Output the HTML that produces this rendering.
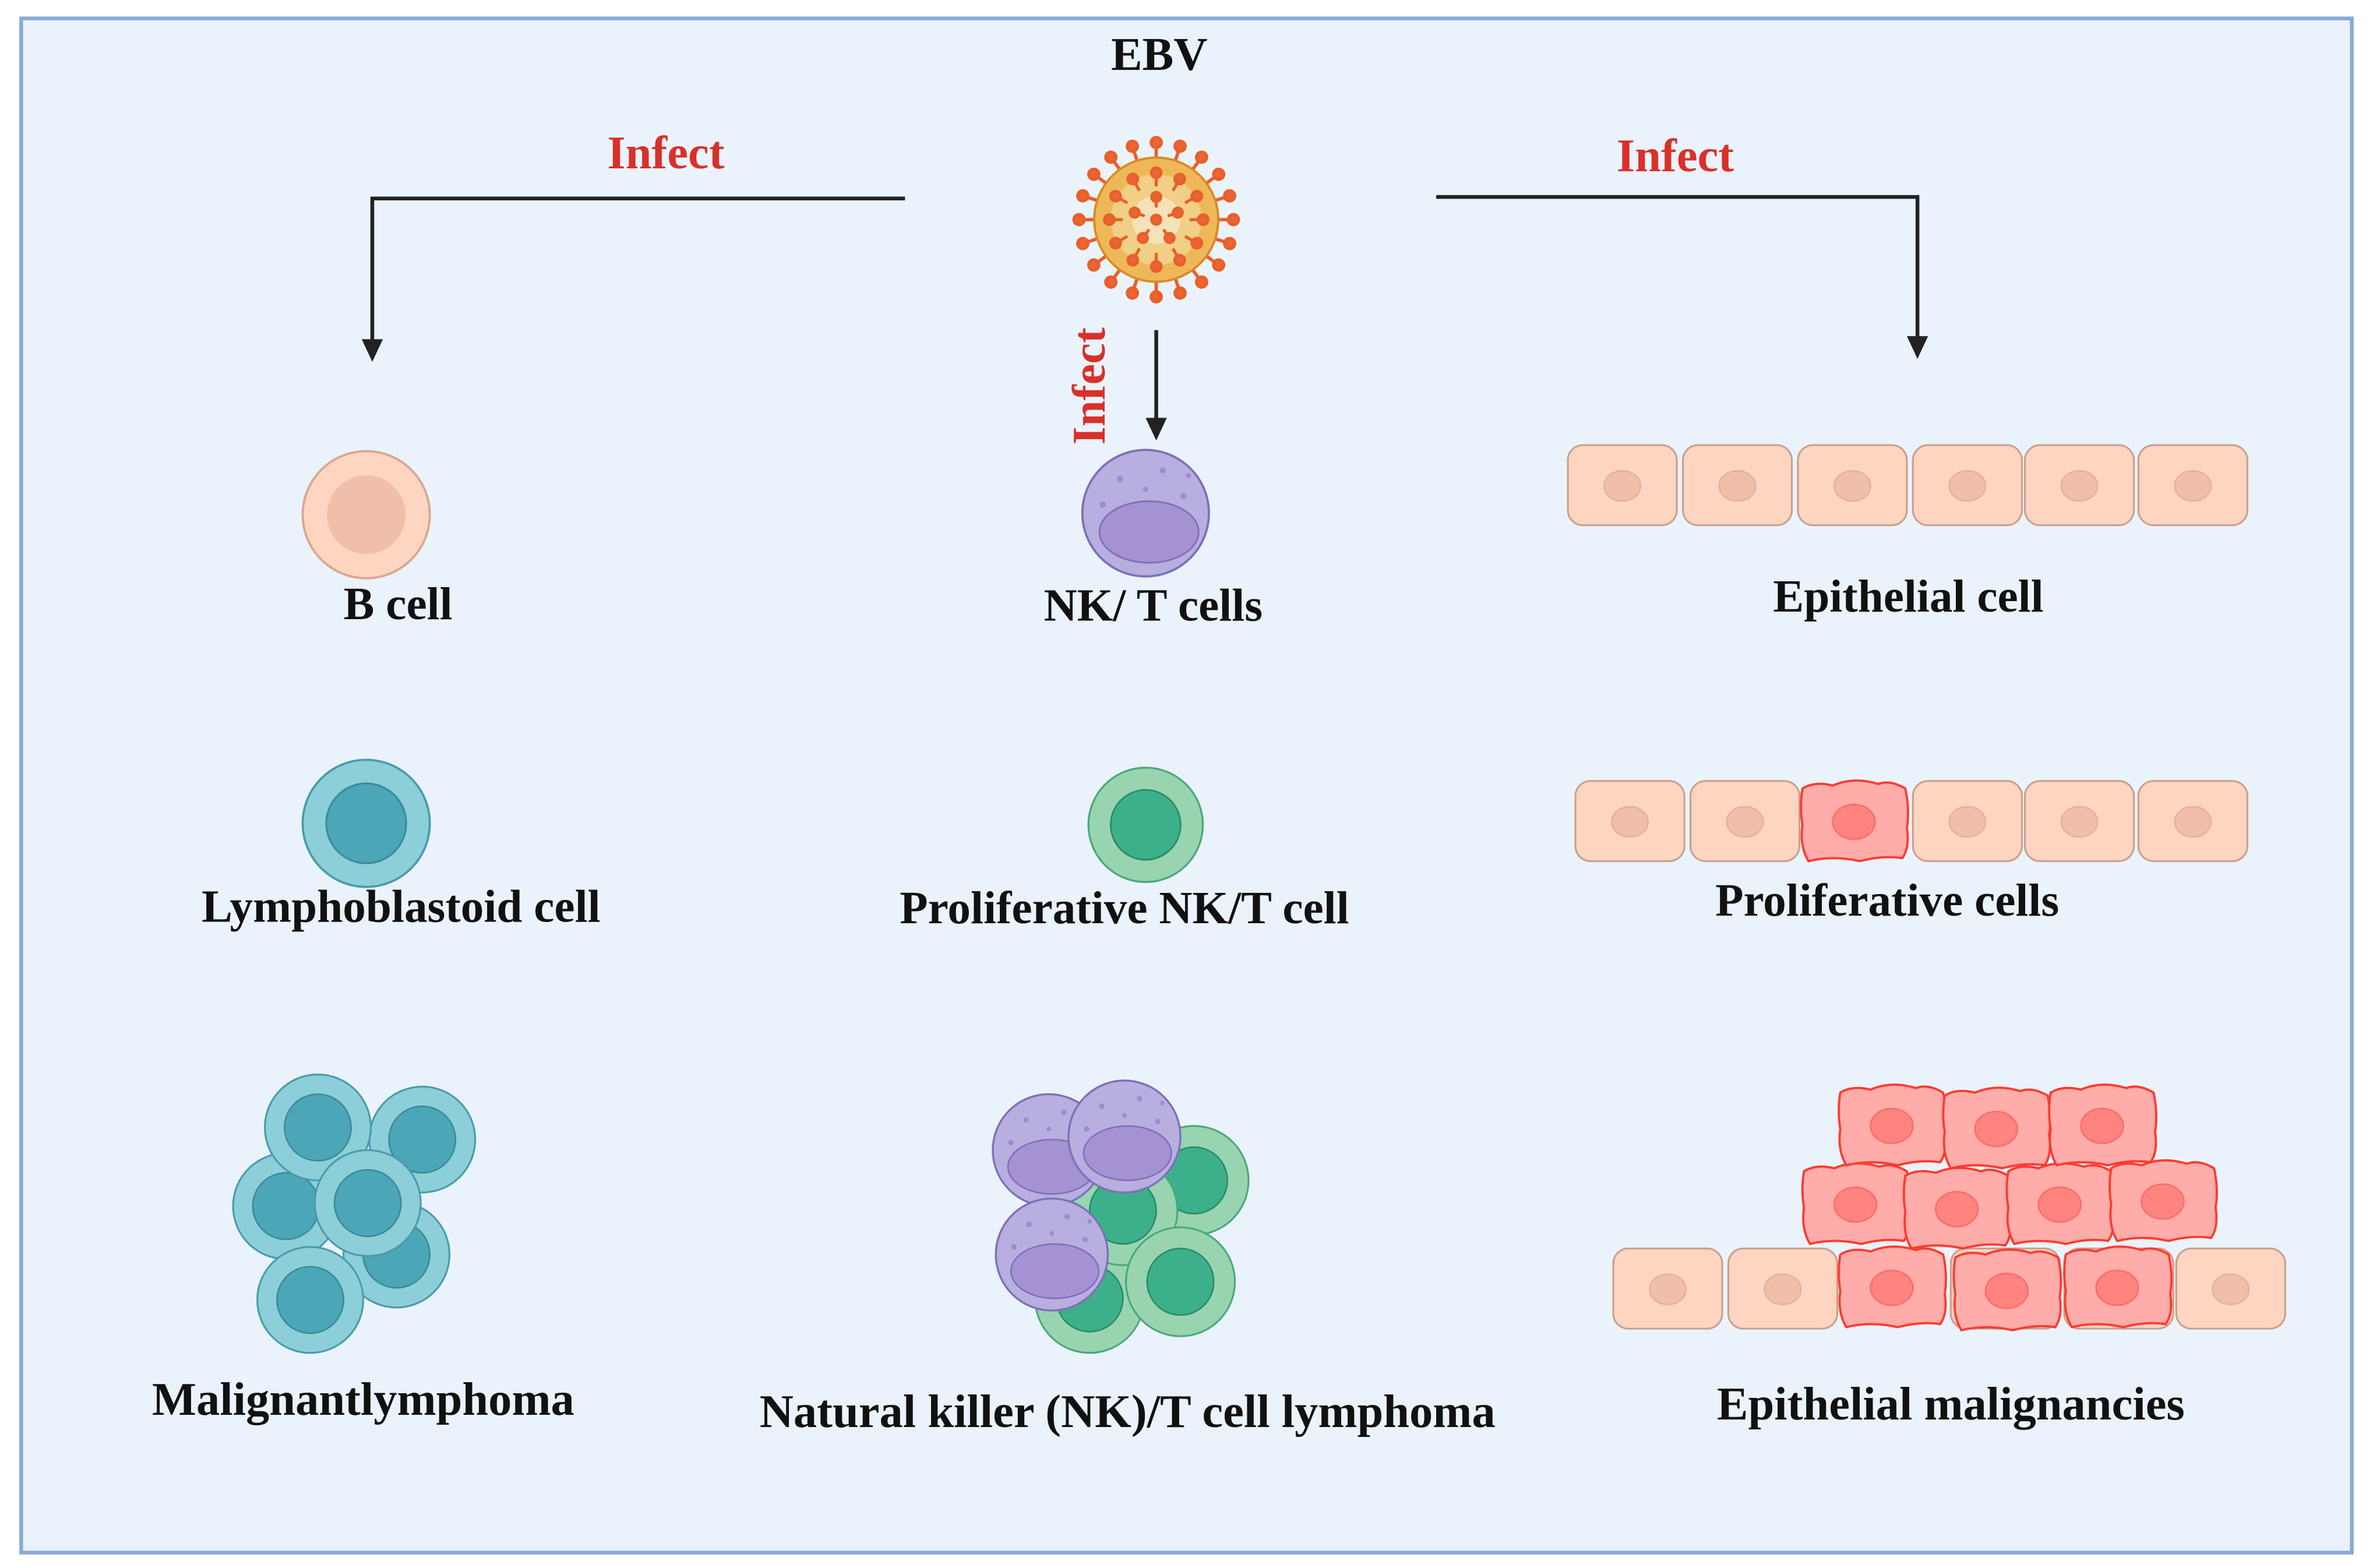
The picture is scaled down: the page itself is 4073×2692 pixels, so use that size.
<!DOCTYPE html>
<html><head><meta charset="utf-8"><style>
html,body{margin:0;padding:0;background:#fff}
svg{display:block}
text{font-family:"Liberation Serif",serif;font-weight:bold}
</style></head><body>
<svg width="4073" height="2692" viewBox="0 0 1568 1036" xmlns="http://www.w3.org/2000/svg">
<defs>
<g id="bc"><circle r="42" fill="#fdd5c0" stroke="#d8a890" stroke-width="1.5"/><circle r="26" fill="#f0bfaa"/></g>
<g id="lc"><circle r="35" fill="#8ccfd9" stroke="#4a9aaa" stroke-width="1.2"/><circle r="22" fill="#4ba6b8" stroke="#3a8a9a" stroke-width="1"/></g>
<g id="gc"><circle r="36" fill="#98d4b0" stroke="#4aa87a" stroke-width="1.2"/><circle r="22" fill="#3cb08a" stroke="#2a8a66" stroke-width="1"/></g>
<g id="pc"><circle r="37" fill="#b8aee0" stroke="#7c70b8" stroke-width="1.3"/><ellipse cx="2" cy="11" rx="29" ry="18" fill="#a592d2" stroke="#8070b8" stroke-width="1"/>
<circle cx="-15" cy="-20" r="1.8" fill="#9a8ccf"/><circle cx="10" cy="-25" r="1.8" fill="#9a8ccf"/><circle cx="22" cy="-10" r="1.8" fill="#9a8ccf"/><circle cx="-25" cy="-5" r="1.8" fill="#9a8ccf"/><circle cx="0" cy="-14" r="1.5" fill="#9a8ccf"/><circle cx="25" cy="-22" r="1.5" fill="#9a8ccf"/></g>
<g id="ec"><rect x="0" y="0" width="72" height="53" rx="10" fill="#fdd5c0" stroke="#c9a08c" stroke-width="1.2"/><ellipse cx="36" cy="27" rx="12" ry="10" fill="#f0bfaa" stroke="#e5b09c" stroke-width="1"/></g>
<g id="rc"><path d="M2,6 Q10,1 22,4 Q36,-2 52,3 Q60,0 70,6 Q73,20 71,32 Q73,45 68,52 Q55,50 40,54 Q22,50 6,54 Q0,44 2,30 Q0,18 2,6Z" fill="#ffadaa" stroke="#ff3b30" stroke-width="1.5"/><ellipse cx="36" cy="28" rx="14" ry="11.5" fill="#ff8480" stroke="#ff6b66" stroke-width="1"/></g>
</defs>
<rect x="0" y="0" width="1568" height="1036" fill="#fff"/>
<rect x="14" y="12" width="1540" height="1014" fill="#eaf3fc" stroke="#8aaad6" stroke-width="2.5"/>
<text x="766" y="46" font-size="31" text-anchor="middle" fill="#111">EBV</text>
<text x="440" y="111" font-size="31" text-anchor="middle" fill="#d9302a">Infect</text>
<text x="1107" y="113" font-size="31" text-anchor="middle" fill="#d9302a">Infect</text>
<text transform="translate(730,255) rotate(-90)" font-size="31" text-anchor="middle" fill="#d9302a">Infect</text>
<g stroke="#222" stroke-width="2.5" fill="none">
<path d="M598,131 H246 V228"/><path d="M949,130 H1267 V226"/><path d="M764,218 V280"/>
</g>
<g fill="#222"><path d="M239,224 L253,224 L246,239Z"/><path d="M1260,222 L1274,222 L1267,237Z"/><path d="M757,276 L771,276 L764,291Z"/></g>
<g transform="translate(764,145)">
<g stroke="#e8602a" stroke-width="2.2" fill="#ec6535">
<g id="sp"><line x1="0" y1="-40" x2="0" y2="-50"/><circle cy="-51" r="3.3"/></g>
<use href="#sp" transform="rotate(18)"/><use href="#sp" transform="rotate(36)"/><use href="#sp" transform="rotate(54)"/><use href="#sp" transform="rotate(72)"/><use href="#sp" transform="rotate(90)"/><use href="#sp" transform="rotate(108)"/><use href="#sp" transform="rotate(126)"/><use href="#sp" transform="rotate(144)"/><use href="#sp" transform="rotate(162)"/><use href="#sp" transform="rotate(180)"/><use href="#sp" transform="rotate(198)"/><use href="#sp" transform="rotate(216)"/><use href="#sp" transform="rotate(234)"/><use href="#sp" transform="rotate(252)"/><use href="#sp" transform="rotate(270)"/><use href="#sp" transform="rotate(288)"/><use href="#sp" transform="rotate(306)"/><use href="#sp" transform="rotate(324)"/><use href="#sp" transform="rotate(342)"/>
</g>
<circle r="41" fill="#eeb858" stroke="#d98a25" stroke-width="1.5"/>
<circle r="30" fill="#f2cf86"/><circle r="16" fill="#f6e2b8"/>
<g stroke="#e8602a" stroke-width="2" fill="#ec6535">
<g id="ip"><line x1="0" y1="-22" x2="0" y2="-30"/><circle cy="-31" r="3.2"/></g>
<use href="#ip" transform="rotate(30)"/><use href="#ip" transform="rotate(60)"/><use href="#ip" transform="rotate(90)"/><use href="#ip" transform="rotate(120)"/><use href="#ip" transform="rotate(150)"/><use href="#ip" transform="rotate(180)"/><use href="#ip" transform="rotate(210)"/><use href="#ip" transform="rotate(240)"/><use href="#ip" transform="rotate(270)"/><use href="#ip" transform="rotate(300)"/><use href="#ip" transform="rotate(330)"/>
<g id="jp"><line x1="0" y1="-8" x2="0" y2="-14"/><circle cy="-15" r="3"/></g>
<use href="#jp" transform="rotate(72)"/><use href="#jp" transform="rotate(144)"/><use href="#jp" transform="rotate(216)"/><use href="#jp" transform="rotate(288)"/>
<circle r="3" />
</g>
</g>
<use href="#bc" x="242" y="340"/>
<g transform="translate(757,339) scale(1.13)"><use href="#pc"/></g>
<use href="#ec" x="1036" y="294"/><use href="#ec" x="1112" y="294"/><use href="#ec" x="1188" y="294"/><use href="#ec" x="1264" y="294"/><use href="#ec" x="1338" y="294"/><use href="#ec" x="1413" y="294"/>
<text x="263" y="409" font-size="30.5" text-anchor="middle" fill="#111">B cell</text>
<text x="762" y="410" font-size="30.5" text-anchor="middle" fill="#111">NK/ T cells</text>
<text x="1261" y="404" font-size="30.5" text-anchor="middle" fill="#111">Epithelial cell</text>
<g transform="translate(242,544) scale(1.2)"><use href="#lc"/></g>
<g transform="translate(757,545) scale(1.05)"><use href="#gc"/></g>
<use href="#ec" x="1041" y="516"/><use href="#ec" x="1117" y="516"/><use href="#rc" x="1189" y="515"/><use href="#ec" x="1264" y="516"/><use href="#ec" x="1338" y="516"/><use href="#ec" x="1413" y="516"/>
<text x="265" y="609" font-size="30.5" text-anchor="middle" fill="#111">Lymphoblastoid cell</text>
<text x="743" y="610" font-size="30.5" text-anchor="middle" fill="#111">Proliferative NK/T cell</text>
<text x="1247" y="605" font-size="30.5" text-anchor="middle" fill="#111">Proliferative cells</text>
<use href="#lc" x="262" y="829"/><use href="#lc" x="189" y="797"/><use href="#lc" x="279" y="753"/><use href="#lc" x="210" y="745"/><use href="#lc" x="243" y="795"/><use href="#lc" x="205" y="859"/>
<use href="#gc" x="789" y="780"/><use href="#gc" x="720" y="858"/><use href="#gc" x="742" y="800"/><use href="#gc" x="780" y="847"/>
<use href="#pc" x="693" y="760"/><use href="#pc" x="743" y="751"/><use href="#pc" x="695" y="829"/>
<use href="#ec" x="1066" y="825"/><use href="#ec" x="1142" y="825"/><use href="#ec" x="1438" y="825"/>
<use href="#ec" x="1289" y="825"/><use href="#ec" x="1364" y="825"/>
<use href="#rc" x="1214" y="823"/><use href="#rc" x="1290" y="825"/><use href="#rc" x="1363" y="823"/>
<use href="#rc" x="1190" y="768"/><use href="#rc" x="1257" y="771"/><use href="#rc" x="1325" y="768"/><use href="#rc" x="1393" y="766"/>
<use href="#rc" x="1214" y="716"/><use href="#rc" x="1283" y="718"/><use href="#rc" x="1353" y="716"/>
<text x="240" y="935" font-size="31" text-anchor="middle" fill="#111">Malignantlymphoma</text>
<text x="745" y="943" font-size="31" text-anchor="middle" fill="#111">Natural killer (NK)/T cell lymphoma</text>
<text x="1289" y="938" font-size="31" text-anchor="middle" fill="#111">Epithelial malignancies</text>
</svg>
</body></html>
